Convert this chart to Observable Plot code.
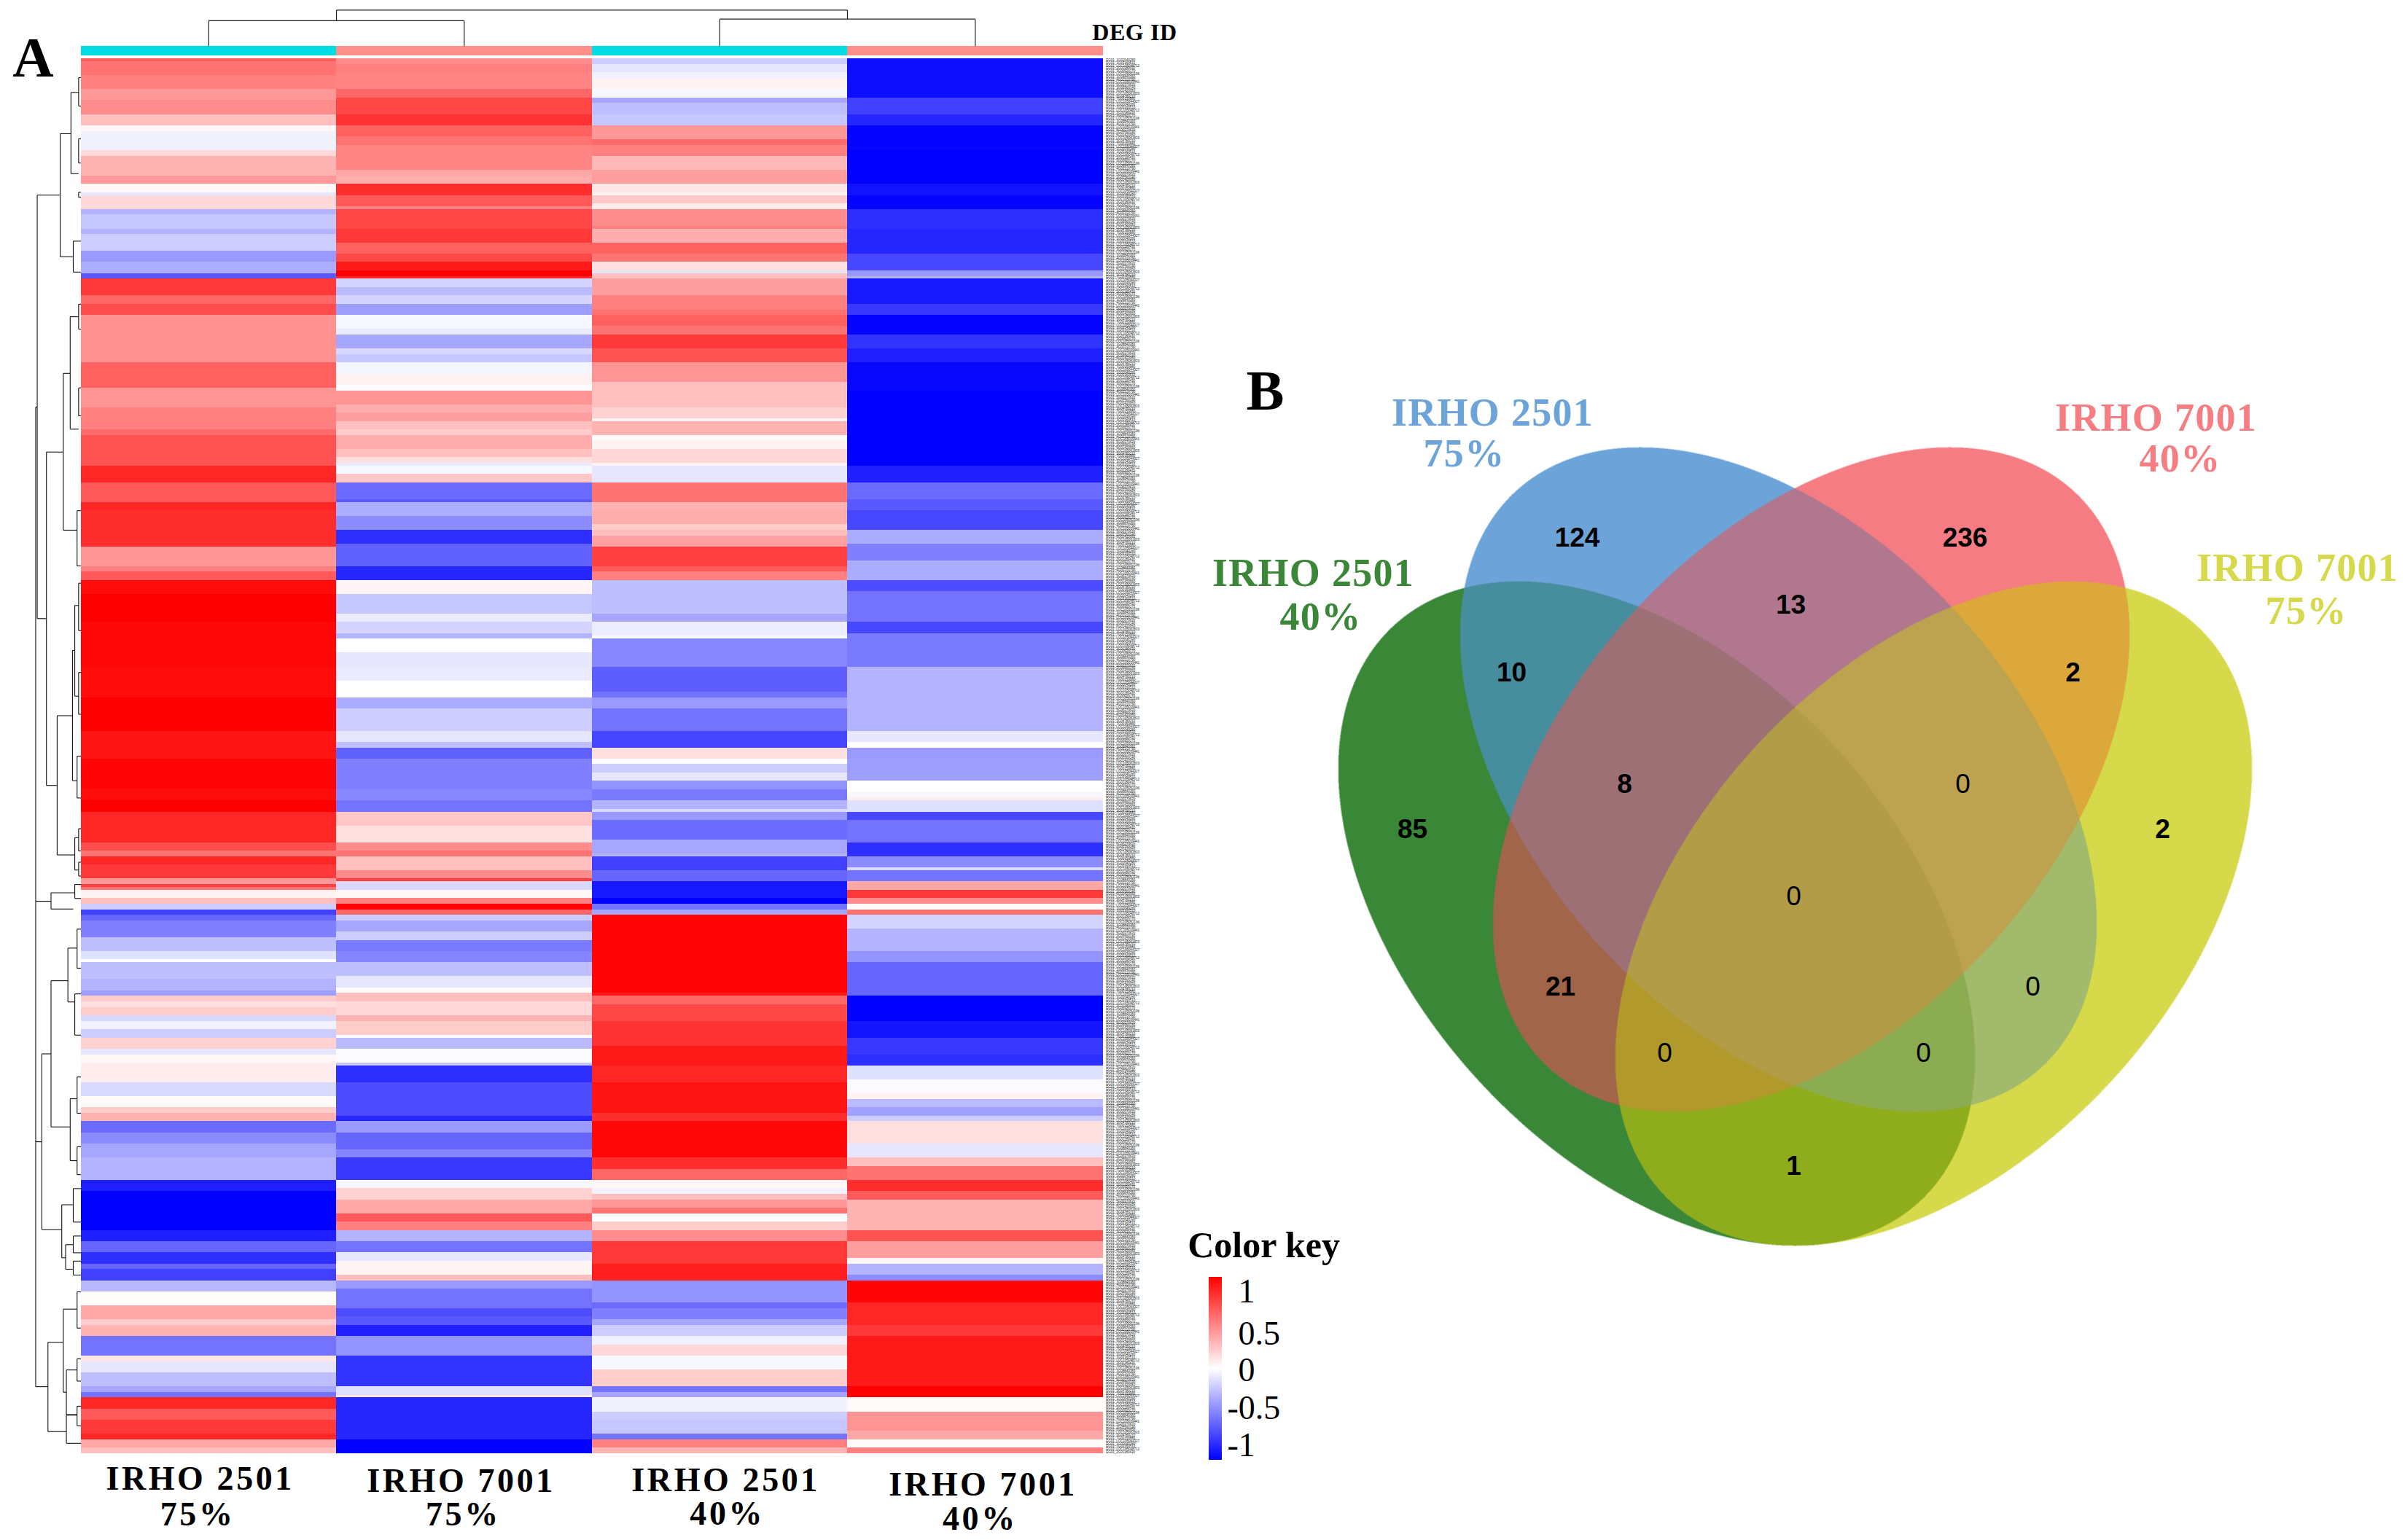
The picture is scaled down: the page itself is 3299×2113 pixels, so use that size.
<!DOCTYPE html>
<html><head><meta charset="utf-8">
<script src="https://cdn.jsdelivr.net/npm/d3@7"></script>
<script src="https://cdn.jsdelivr.net/npm/@observablehq/plot@0.6"></script>
<style>
html,body{margin:0;padding:0;background:#fff;width:3299px;height:2113px;overflow:hidden}
.panel{position:absolute}
.panel svg{display:block;background:transparent;overflow:visible}
.sp2 text{letter-spacing:3.6px}
.sp1 text{letter-spacing:1.3px}
.sp0 text{letter-spacing:.6px}
</style></head><body>
<div id="heatPanel" class="panel" style="left:0;top:0"></div>
<div id="vennPanel" class="panel" style="left:1625px;top:450px"></div>
<div id="keyPanel" class="panel" style="left:1625px;top:1660px"></div>
<script>
// ---- Heat map bands: [band end along the tree, scaled expression]
const col1Top=[[190,.65],[230,.55],[275,.5],[305,.4],[348,.45],[385,.25],[400,.03],[460,-.05],[480,.15],[540,.3],[565,.4],[590,.03],[600,-.1],[640,.15],[660,-.3],[700,-.22],[720,-.3],[770,-.2],[805,-.4],[840,-.32],[855,-.65],[905,.78],[935,.6],[968,.7],[1110,.43],[1195,.62],[1250,.42],[1320,.5],[1340,.58],[1430,.68],[1480,.85],[1540,.65],[1568,.85]];
const col1Mid=[[110,.82],[155,.42],[170,.4],[190,.5],[215,.65],[260,.95],[340,1],[480,.97],[575,.95],[680,1],[760,.92],[860,.98],[895,.95],[925,1],[1020,.85],[1045,.7],[1065,.55],[1090,.85],[1130,.78],[1145,.4],[1158,.75],[1168,.55],[1190,.05],[1210,.25],[1228,-.2],[1245,-.75],[1262,-.6],[1312,-.5],[1355,-.25],[1380,-.12],[1390,0],[1440,-.25],[1475,-.3],[1493,-.38],[1510,.2],[1530,.12],[1552,.2],[1568,-.15]];
const col1Low=[[25,-.05],[50,-.2],[85,.18],[100,-.1],[130,.03],[185,.07],[230,-.15],[262,.02],[280,.2],[305,.3],[340,-.58],[370,-.45],[415,-.35],[480,-.3],[515,-.88],[630,-1],[665,-.88],[700,-.6],[735,-.82],[750,-.6],[785,-.75],[815,-.28],[860,.01],[900,.35],[920,.2],[950,.3],[1010,-.55],[1030,.1],[1060,-.1],[1100,-.25],[1120,-.35],[1138,-.55],[1170,.85],[1205,.65],[1250,.78],[1265,.85],[1285,.35],[1306,.25]];
const col2Top=[[195,.45],[222,.5],[273,.48],[300,.6],[348,.72],[385,.8],[415,.62],[445,.55],[520,.48],[540,.35],[565,.32],[597,.82],[635,.65],[640,.5],[700,.72],[745,.78],[780,.62],[805,.72],[830,.9],[845,1],[855,.85],[885,-.17],[905,-.27],[935,-.17],[968,-.38],[1010,-.03],[1028,-.08],[1070,-.35],[1090,-.15],[1113,-.22],[1150,-.04],[1180,.05],[1197,-.01],[1240,.42],[1270,.32],[1292,.38],[1320,.25],[1340,.2],[1380,.32],[1405,.25],[1420,.12],[1430,-.08],[1455,-.03],[1480,.22],[1530,-.58],[1543,-.65],[1568,-.32]];
const col2Mid=[[20,-.32],[60,-.45],[103,-.82],[170,-.62],[215,-.85],[260,.04],[320,-.22],[343,-.08],[378,-.17],[395,-.3],[435,0],[480,-.1],[525,-.08],[575,0],[610,-.33],[680,-.2],[710,-.1],[730,-.25],[765,-.62],[858,-.5],[895,-.47],[925,-.55],[970,.22],[1020,.12],[1045,.45],[1065,.55],[1105,.25],[1130,.45],[1140,.75],[1165,-.15],[1190,.03],[1205,.5],[1225,.98],[1245,.6],[1262,-.2],[1295,-.35],[1320,-.2],[1355,-.52],[1390,-.48],[1435,-.25],[1470,-.1],[1483,.02],[1510,.25],[1550,.15],[1568,.3]];
const col2Low=[[45,.2],[55,0],[85,-.27],[125,-.02],[135,-.22],[185,-.82],[290,-.7],[305,-.85],[340,-.4],[385,-.6],[415,-.48],[480,-.78],[510,-.03],[540,.18],[585,.35],[610,.65],[632,.5],[665,-.3],[700,-.55],[725,-.1],[770,.04],[785,.25],[810,-.4],[870,-.55],[895,-.7],[920,-.65],[952,-.88],[1012,-.42],[1105,-.8],[1130,-.12],[1138,.1],[1265,-.85],[1306,-1]];
const col3Top=[[195,-.2],[222,-.1],[238,-.05],[270,.05],[298,-.03],[318,-.35],[348,-.25],[385,-.22],[430,.4],[445,.58],[480,.5],[520,.28],[565,.38],[590,.1],[597,.05],[625,.22],[642,.08],[690,.45],[700,.5],[745,.32],[780,.62],[805,.55],[830,.12],[840,-.1],[855,.25],[905,.38],[950,.5],[968,.55],[1000,.62],[1028,.55],[1070,.78],[1113,.68],[1170,.42],[1250,.25],[1285,.18],[1292,.05],[1335,.3],[1350,.02],[1380,.05],[1425,.15],[1435,.05],[1480,-.1],[1540,.55],[1568,.3]];
const col3Mid=[[40,.32],[60,.2],[75,.25],[110,.37],[170,.75],[190,.65],[215,.5],[318,-.25],[343,-.35],[385,-.07],[395,-.02],[480,-.47],[560,-.63],[575,-.55],[608,-.4],[680,-.55],[728,-.73],[765,.12],[780,0],[805,-.2],[832,-.1],[860,-.42],[893,-.52],[920,-.3],[925,-.15],[950,-.4],[1010,-.58],[1055,-.35],[1065,-.3],[1105,-.75],[1140,-.6],[1190,-.9],[1210,-1],[1228,-.55],[1245,-.35],[1480,.98],[1493,.9],[1520,.6],[1568,.72]];
const col3Low=[[75,.8],[135,.9],[185,.85],[280,.92],[305,.82],[415,.97],[450,.82],[482,.6],[505,.03],[520,-.05],[540,.25],[565,.4],[582,.55],[610,0],[630,.2],[665,.45],[735,.78],[785,.88],[850,-.42],[870,-.58],[900,-.5],[920,-.35],[950,-.2],[980,-.06],[1012,.15],[1050,-.03],[1105,.2],[1120,-.55],[1138,-.35],[1180,-.05],[1205,-.2],[1250,-.22],[1265,-.55],[1285,.5],[1306,.3]];
const col4Top=[[300,-.95],[348,-.75],[385,-.85],[465,-.98],[565,-1],[597,-.93],[640,-.98],[700,-.82],[780,-.85],[830,-.72],[845,-.4],[855,-.3],[935,-.9],[968,-.78],[1028,-.98],[1070,-.8],[1113,-.88],[1197,-.97],[1430,-1],[1480,-.88],[1530,-.58],[1568,-.65]];
const col4Mid=[[60,-.72],[100,-.33],[155,-.5],[215,-.33],[250,-.7],[340,-.55],[380,-.72],[480,-.52],[680,-.3],[715,-.1],[728,0],[765,-.4],[832,-.38],[865,0],[880,-.03],[893,.06],[925,-.12],[950,-.72],[1020,-.55],[1065,-.82],[1095,-.45],[1105,-.15],[1140,-.55],[1165,.35],[1192,.78],[1210,.45],[1228,.02],[1245,.55],[1285,-.17],[1355,-.3],[1390,-.42],[1490,-.6],[1568,-1]];
const col4Low=[[50,-.92],[100,-.78],[135,-.82],[178,-.12],[222,-.02],[235,.05],[262,-.27],[290,-.37],[305,-.2],[370,.12],[410,-.1],[440,.25],[482,.55],[515,.82],[540,.65],[632,.3],[665,.68],[715,.38],[735,.03],[770,-.3],[785,-.45],[855,.98],[920,.85],[952,.78],[1105,.9],[1138,1],[1180,.02],[1240,.42],[1265,.35],[1285,.02],[1306,.5]];
const rowCount=500;
const rowIds=["EG01_1G02040280","EG01_1G03160510","EG01_LOC105048712","EG01_2G01180430","EG01_3G00920170","EG01_LOC105052196","EG01_1G08840360","EG01_4G02210790","EG01_LOC105039441","EG01_5G00370620","EG01_2G05560140","EG01_6G01420950","EG01_LOC105061833","EG01_3G04780210","EG01_7G00150880","EG01_LOC105044327"];
const sampleBar=["#00dce4","#ff8f88","#00dce4","#ff8f88"];
// ---- Dendrograms: [height, first child row, second child row, first child height, second child height]
const rowTree=[[17.7,124.9,476,17.1,12.9],[17.7,302,302,11.7,11.7],[17.7,388.2,388.2,15.3,15.3],[17.1,48.9,200.7,8.1,13.5],[8.1,26.9,71,3.9,3],[3.9,12.1,41.2,.9,.9],[.9,6.8,17,0,0],[.9,28.7,37.4,0,0],[.9,47.9,49.7,0,0],[3,65.4,76.5,0,0],[13.5,141,260.5,6.9,9.3],[6.9,112.8,169,4.2,1.5],[4.2,92.5,132.8,.9,.9],[.9,88,97,0,0],[.9,118,128,0,0],[1.5,162,181.8,0,0],[9.3,235.5,285.4,3.3,2.4],[3.3,212.1,258.8,2.4,1.5],[2.4,196,228.5,.9,.9],[.9,188,205,0,0],[.9,220,235,0,0],[1.5,250,265,0,0],[2.4,279.2,290.8,.9,.9],[.9,276,284,0,0],[.9,288,293,0,0],[11.7,299,304.8,2.4,3],[2.4,296,301,0,0],[15.3,356.7,419.7,11.7,7.5],[11.7,330.5,382.9,5.1,4.2],[5.1,318.8,338.1,1.5,2.4],[1.5,312,326,0,0],[2.4,335.2,350,0,0],[4.2,372.8,395,1.5,1.5],[1.5,365,378,0,0],[1.5,390,400,0,0],[7.5,410.8,429.8,3,6],[3,405,417,0,0],[6,425.1,433.9,3,3],[3,422,428,0,0],[3,431,436,0,0],[12.9,460.1,492.1,6.9,5.7],[6.9,448.2,478,1.5,5.7],[1.5,442,455,0,0],[5.7,470,486,1.5,1.5],[1.5,466,474,0,0],[5.7,486.2,496.3,1.5,0],[1.5,483,490,0,0]];
// ---- Venn counts and names
const vennCounts=["124","236","13","10","2","8","0","85","2","0","21","0","0","0","1"];
const vennCountX=[2163,2695,2456,2073,2843,2228,2692,1937,2966,2460,2140,2788,2283,2638,2460];
const vennCountY=[738,738,830,923,923,1076,1076,1138,1138,1230,1354,1354,1445,1445,1600];
const vennNames=["IRHO 2501","75%","IRHO 7001","40%","IRHO 7001","75%","IRHO 2501","40%"];
const vennNameX=[2047,2008,2957,2990,3151,3163,1801,1811];
const vennNameY=[566,622,573,629,779,838,786,846];
const vennNameFill=["#6ca4da","#6ca4da","#f67d82","#f67d82","#d6d94a","#d6d94a","#3a8738","#3a8738"];
// Ellipses: green, blue, red, yellow
const ellipseCx=[2272,2439,2484,2652];
const ellipseCy=[1253,1069,1069,1253];
const ellipseTilt=[47.8,47.8,-47.8,-47.8];
// Colour of each overlap, indexed by membership bits green=1 blue=2 red=4 yellow=8
const regionColors=["#ffffff","#3a8738","#6ca3d9","#468d9e","#f57c82","#a1654a","#b0778f","#9d7076","#d6d94a","#8eac1b","#a1ba6c","#8cac52","#dca83b","#b19a2b","#bda350","#b39c48"];
// ---- Colour key
const keyLabels=["1","0.5","0","-0.5","-1"];
const keyAt=[.84,.38,-.02,-.43,-.84];

// ---- build the table of rows
const toRow=[z=>(z-179)/8.575,z=>(z+1389)/8.575,z=>(z+2903)/8.418];
function expand(parts){
  const bands=parts.flatMap((p,i)=>p.map(([z,v])=>[toRow[i](z),v]));
  const out=[];let k=0;
  for(let r=0;r<rowCount;r++){
    while(k<bands.length-1&&bands[k][0]<=r+.5)k++;
    out.push(bands[k][1]);
  }
  return out;
}
const columnValues=[expand([col1Top,col1Mid,col1Low]),expand([col2Top,col2Mid,col2Low]),expand([col3Top,col3Mid,col3Low]),expand([col4Top,col4Mid,col4Low])];
const cells=columnValues.flatMap((vals,c)=>vals.map((v,r)=>({c,r,v})));
const rowsIdx=d3.range(rowCount);
const colorScale={type:"linear",domain:[-1,0,1],range:["#0000ff","#ffffff","#ff0000"],interpolate:"rgb"};

const rowLinks=[];
for(const [h,a,b,ha,hb] of rowTree){
  rowLinks.push({x1:-h/100,y1:a,x2:-h/100,y2:b});
  rowLinks.push({x1:-h/100,y1:a,x2:-ha/100,y2:a});
  rowLinks.push({x1:-h/100,y1:b,x2:-hb/100,y2:b});
}
const columnLinks=[
  {x1:1,y1:-17.4,x2:3,y2:-17.4},{x1:1,y1:-17.4,x2:1,y2:-13.6},{x1:3,y1:-17.4,x2:3,y2:-14.2},
  {x1:.5,y1:-13.6,x2:1.5,y2:-13.6},{x1:.5,y1:-13.6,x2:.5,y2:-4.44},{x1:1.5,y1:-13.6,x2:1.5,y2:-4.44},
  {x1:2.5,y1:-14.2,x2:3.5,y2:-14.2},{x1:2.5,y1:-14.2,x2:2.5,y2:-4.44},{x1:3.5,y1:-14.2,x2:3.5,y2:-4.44}
];
const serif="Liberation Serif";
const heatLabels=[["IRHO 2501",.467,509.1],["75%",.457,521.9],["IRHO 7001",1.488,509.9],["75%",1.496,521.9],["IRHO 2501",2.524,509.6],["40%",2.53,521.6],["IRHO 7001",3.531,511.2],["40%",3.519,523.5]];

const heatPlot=Plot.plot({
  width:1625,height:2113,margin:0,
  x:{domain:[0,4],range:[110.5,1512.5],axis:null},
  y:{domain:[0,rowCount],range:[80,1994],axis:null},
  color:colorScale,
  marks:[
    Plot.rect(cells,{x1:d=>d.c,x2:d=>d.c+1,y1:d=>d.r,y2:d=>d.r+1,fill:"v",inset:0,shapeRendering:"crispEdges"}),
    Plot.rect(sampleBar,{x1:(d,i)=>i,x2:(d,i)=>i+1,y1:-4.44,y2:-1.04,fill:d=>d,shapeRendering:"crispEdges"}),
    Plot.link(rowLinks,{x1:"x1",y1:"y1",x2:"x2",y2:"y2",stroke:"#111",strokeWidth:1.1}),
    Plot.link(columnLinks,{x1:"x1",y1:"y1",x2:"x2",y2:"y2",stroke:"#222",strokeWidth:1.2}),
    Plot.text(rowsIdx,{x:4.012,y:d=>d+.5,text:d=>rowIds[d%rowIds.length],textAnchor:"start",fontSize:4.5,fontFamily:"Liberation Sans",fill:"#222",lineAnchor:"middle"}),
    Plot.text(heatLabels,{x:d=>d[1],y:d=>d[2],text:d=>d[0],fontSize:46,fontWeight:"bold",fontFamily:serif,fill:"#000",lineAnchor:"middle",className:"sp2"}),
    Plot.text(["A"],{x:-.187,y:0,fontSize:78,fontWeight:"bold",fontFamily:serif,fill:"#000",lineAnchor:"middle"}),
    Plot.text(["DEG ID"],{x:4.124,y:-9.4,fontSize:32,fontWeight:"bold",fontFamily:serif,fill:"#000",lineAnchor:"middle",className:"sp0"})
  ]
});
document.getElementById("heatPanel").append(heatPlot);

// ---- Venn
const a2=535*535,b2=335*335;
const trig=ellipseTilt.map(t=>[Math.cos(t*Math.PI/180),Math.sin(t*Math.PI/180)]);
function region(x,y){
  let m=0;
  for(let i=0;i<4;i++){
    const dx=x-ellipseCx[i],dy=y-ellipseCy[i],[c,s]=trig[i];
    const u=dx*c+dy*s,v=-dx*s+dy*c;
    if(u*u/a2+v*v/b2<=1)m|=1<<i;
  }
  return regionColors[m];
}
const vennIdx=d3.range(vennCounts.length);
const vennPlot=Plot.plot({
  width:1674,height:1300,margin:0,
  x:{domain:[1625,3299],range:[0,1674],axis:null},
  y:{domain:[450,1750],range:[0,1300],axis:null},
  marks:[
    Plot.raster({x1:1830,x2:3095,y1:605,y2:1715,pixelSize:.5,imageRendering:"auto",fill:region}),
    Plot.text(vennIdx.filter(i=>vennCounts[i]!=="0"),{x:i=>vennCountX[i],y:i=>vennCountY[i],text:i=>vennCounts[i],fontSize:37,fontWeight:"bold",fontFamily:"Liberation Sans",fill:"#000",lineAnchor:"middle"}),
    Plot.text(vennIdx.filter(i=>vennCounts[i]==="0"),{x:i=>vennCountX[i],y:i=>vennCountY[i],text:i=>vennCounts[i],fontSize:37,fontWeight:"normal",fontFamily:"Liberation Sans",fill:"#000",lineAnchor:"middle"}),
    Plot.text(vennNames,{x:(d,i)=>vennNameX[i],y:(d,i)=>vennNameY[i],text:d=>d,fill:(d,i)=>vennNameFill[i],fontSize:54,fontWeight:"bold",fontFamily:serif,lineAnchor:"middle",className:"sp1"}),
    Plot.text(["B"],{x:1735,y:537,fontSize:78,fontWeight:"bold",fontFamily:serif,fill:"#000",lineAnchor:"middle"})
  ]
});
document.getElementById("vennPanel").append(vennPlot);

// ---- Colour key
const ramp=d3.range(-1,1,.01);
const keyPlot=Plot.plot({
  width:300,height:380,margin:0,
  x:{domain:[0,1],range:[33,51],axis:null},
  y:{domain:[-1,1],range:[343,92],axis:null},
  color:colorScale,
  marks:[
    Plot.rect(ramp,{x1:0,x2:1,y1:d=>d,y2:d=>d+.01,fill:d=>d+.005,shapeRendering:"crispEdges"}),
    Plot.text(keyLabels,{x:d=>d[0]==="-"?1.39:2.22,y:(d,i)=>keyAt[i],text:d=>d,textAnchor:"start",fontSize:46,fontFamily:serif,fill:"#000",lineAnchor:"middle"}),
    Plot.text(["Color key"],{x:4.17,y:1.35,fontSize:50,fontWeight:"bold",fontFamily:serif,fill:"#000",lineAnchor:"middle"})
  ]
});
document.getElementById("keyPanel").append(keyPlot);
</script></body></html>
